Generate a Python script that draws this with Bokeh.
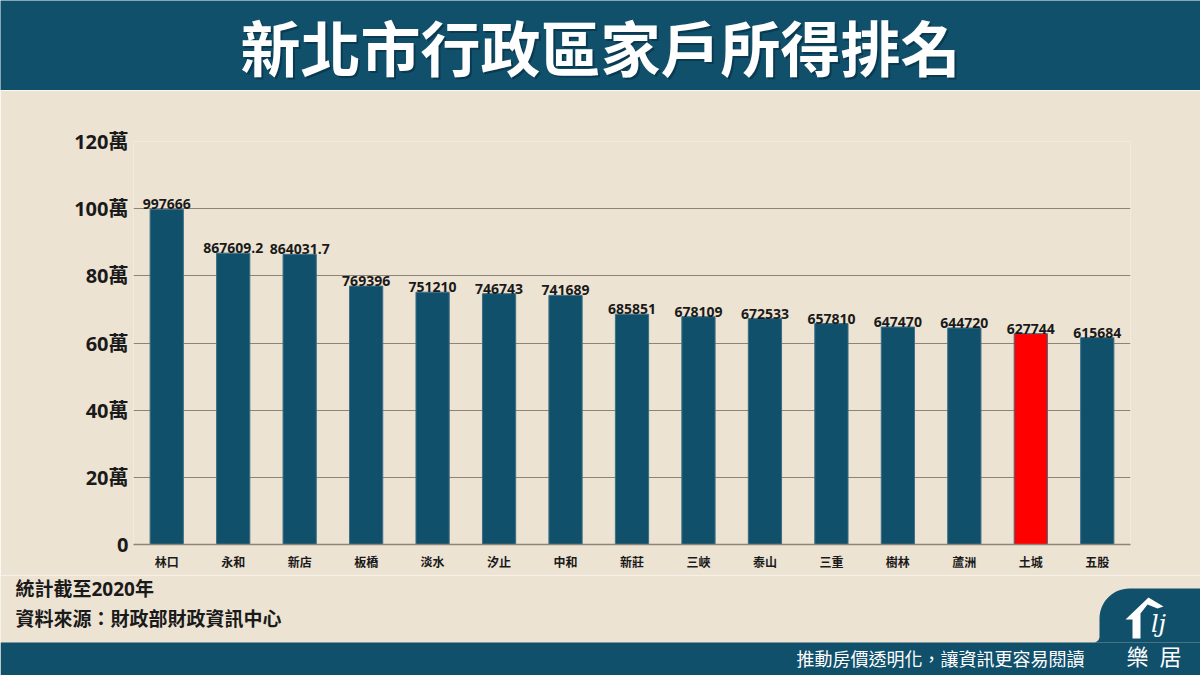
import numpy as np
from bokeh.plotting import figure
from bokeh.layouts import column
from bokeh.models import FactorRange, Range1d, FixedTicker, ColumnDataSource
from bokeh.core.properties import value
from bokeh.embed import file_html
from bokeh.resources import INLINE

# ---- data -------------------------------------------------------------
districts = ["林口", "永和", "新店", "板橋", "淡水", "汐止", "中和", "新莊",
             "三峽", "泰山", "三重", "樹林", "蘆洲", "土城", "五股"]
incomes = [997666, 867609.2, 864031.7, 769396, 751210, 746743, 741689, 685851,
           678109, 672533, 657810, 647470, 644720, 627744, 615684]
highlight = "土城"

tick_values = [0, 200000, 400000, 600000, 800000, 1000000, 1200000]
tick_labels = ["0", "20萬", "40萬", "60萬", "80萬", "100萬", "120萬"]

title_text = "新北市行政區家戶所得排名"
note_lines = ["統計截至2020年", "資料來源：財政部財政資訊中心"]
slogan = "推動房價透明化，讓資訊更容易閱讀"
brand = ["樂", "居"]

# ---- styling ----------------------------------------------------------
NAVY = "#11506b"
RED = "#ff0000"
BG = "#ede3d3"
INK = "#1a1a1a"
GRID = "#8c8478"
CJK = "Noto Sans CJK TC"
MIXED = "'Open Sans', 'Noto Sans CJK TC'"
W = 1200


def blank(height, y_range):
    f = figure(width=W, height=height, x_range=Range1d(0, W), y_range=y_range,
               output_backend="svg", toolbar_location=None,
               x_axis_location=None, y_axis_location=None, min_border=0,
               frame_align=False)
    f.grid.visible = False
    f.outline_line_color = None
    f.background_fill_color = BG
    f.border_fill_color = BG
    return f


# ---- header band ------------------------------------------------------
head = blank(90, Range1d(0, 90))
head.background_fill_color = NAVY
head.border_fill_color = NAVY
head.text(x=[602], y=[43], text=[title_text], text_color="#06283a", text_alpha=0.55,
          text_font=value(CJK), text_font_style="bold", text_font_size="60px",
          text_align="center", text_baseline="middle")
head.text(x=[600], y=[45], text=[title_text], text_color="white",
          text_font=value(CJK), text_font_style="bold", text_font_size="60px",
          text_align="center", text_baseline="middle")

# ---- bar chart --------------------------------------------------------
bar_labels = [str(v) for v in incomes]
colors = [RED if d == highlight else NAVY for d in districts]
src = ColumnDataSource(dict(x=districts, top=incomes, label=bar_labels, color=colors))

p = figure(width=W, height=485, x_range=FactorRange(*districts),
           y_range=Range1d(0, 1200000), output_backend="svg", toolbar_location=None,
           min_border_left=133, min_border_right=70, min_border_top=51,
           min_border_bottom=31, frame_align=False)
p.background_fill_color = BG
p.border_fill_color = BG
p.outline_line_color = None

p.vbar(x="x", top="top", width=0.5, fill_color="color", line_color="#3d6e85",
       line_width=1, source=src)
p.text(x="x", y="top", text="label", source=src, text_align="center",
       text_baseline="alphabetic", y_offset=-5, text_color=INK,
       text_font=value("Open Sans"), text_font_style="bold", text_font_size="14px")

p.yaxis.ticker = FixedTicker(ticks=tick_values)
p.yaxis.major_label_overrides = {v: t for v, t in zip(tick_values, tick_labels)}
p.yaxis.axis_line_color = None
p.yaxis.major_tick_line_color = None
p.yaxis.minor_tick_line_color = None
p.yaxis.major_tick_out = 0
p.yaxis.major_label_standoff = 5
p.yaxis.major_label_text_font = MIXED
p.yaxis.major_label_text_font_style = "bold"
p.yaxis.major_label_text_font_size = "20px"
p.yaxis.major_label_text_color = INK

p.xaxis.axis_line_color = GRID
p.xaxis.axis_line_width = 1.5
p.xaxis.major_tick_line_color = None
p.xaxis.minor_tick_line_color = None
p.xaxis.major_tick_out = 0
p.xaxis.major_label_standoff = 8
p.xaxis.major_label_text_font = CJK
p.xaxis.major_label_text_font_style = "bold"
p.xaxis.major_label_text_font_size = "12px"
p.xaxis.major_label_text_color = INK

p.xgrid.grid_line_color = None
p.ygrid.ticker = FixedTicker(ticks=tick_values)
p.ygrid.grid_line_color = GRID
p.ygrid.grid_line_width = 1

# ---- footer: notes, slogan band and brand tab -------------------------
foot = blank(100, Range1d(100, 0))  # y grows downward here

foot.text(x=[15, 15], y=[13, 43], text=note_lines, text_color=INK,
          text_font=value(MIXED), text_font_style="bold", text_font_size="19px",
          text_align="left", text_baseline="middle")

foot.quad(left=[0], right=[W], top=[67], bottom=[100], fill_color=NAVY, line_color=None)

# tab outline: small concave flare at the band, rounded top-left corner
r, R = 6, 30
wall_x, top_y, band_y = 1099, 13, 67
t1 = np.linspace(np.pi / 2, 0, 12)
flare = [(wall_x - r + r * np.cos(t), band_y - r + r * np.sin(t)) for t in t1]
t2 = np.linspace(np.pi, 1.5 * np.pi, 16)
corner = [(wall_x + R + R * np.cos(t), top_y + R + R * np.sin(t)) for t in t2]
outline = flare + corner + [(W, top_y), (W, band_y)]
foot.patch(x=[pt[0] for pt in outline], y=[pt[1] for pt in outline],
           fill_color=NAVY, line_color=None)

# house mark
house_x = [1125, 1148, 1163, 1157, 1147, 1140, 1140, 1132, 1132]
house_y = [44, 22, 31, 33, 29, 38, 63, 63, 44]
foot.patch(x=house_x, y=house_y, fill_color="white", line_color=None)
foot.text(x=[1158], y=[48], text=["lj"], text_color="white",
          text_font=value("DejaVu Serif"), text_font_style="italic",
          text_font_size="24px", text_align="center", text_baseline="middle")
foot.text(x=[1137, 1170], y=[79, 79], text=brand, text_color="white",
          text_font=value(CJK), text_font_size="22px",
          text_align="center", text_baseline="middle")

foot.text(x=[1084], y=[82], text=[slogan], text_color="white",
          text_font=value(CJK), text_font_size="18px",
          text_align="right", text_baseline="middle")

layout = column(head, p, foot, spacing=0)
open("out.html", "w").write(file_html(layout, INLINE))
